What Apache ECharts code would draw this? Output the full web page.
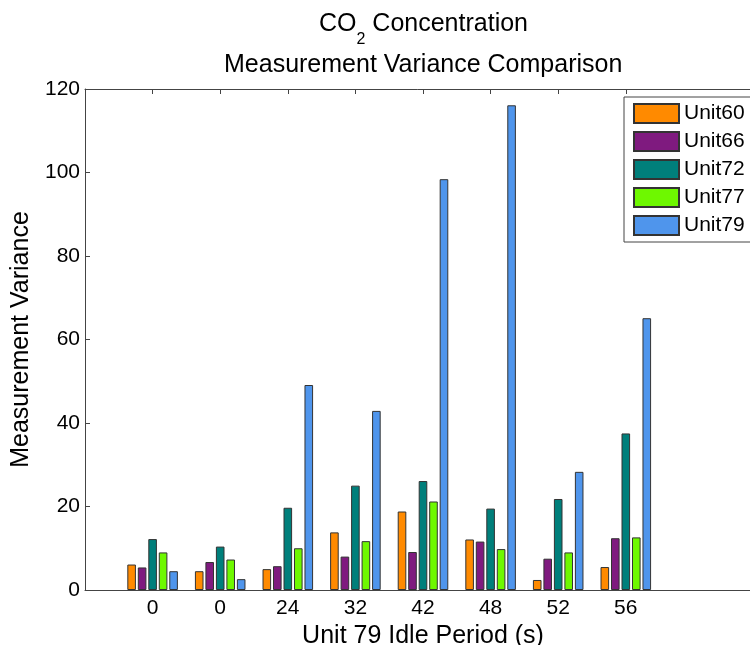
<!DOCTYPE html>
<html>
<head>
<meta charset="utf-8">
<script src="https://cdn.jsdelivr.net/npm/echarts@6/dist/echarts.min.js"></script>
<style>
html,body{margin:0;padding:0;background:#fff;}
#chart{width:750px;height:645px;}
</style>
</head>
<body>
<div id="chart"></div>
<script>
// Data
const categories = ['0', '0', '24', '32', '42', '48', '52', '56'];
const seriesNames = ['Unit60', 'Unit66', 'Unit72', 'Unit77', 'Unit79'];
const unit60 = [6.1, 4.5, 5.0, 13.8, 18.8, 12.1, 2.4, 5.5];
const unit66 = [5.4, 6.7, 5.7, 8.0, 9.1, 11.6, 7.5, 12.4];
const unit72 = [12.2, 10.4, 19.7, 25.0, 26.1, 19.5, 21.8, 37.5];
const unit77 = [9.0, 7.3, 10.0, 11.7, 21.2, 9.8, 9.0, 12.6];
const unit79 = [4.5, 2.6, 49.1, 42.9, 98.4, 116.1, 28.3, 65.1];
const yTicks = [0, 20, 40, 60, 80, 100, 120];

const colors = ['#FF8A00', '#7F1A7F', '#007F7B', '#6EF800', '#4F95EC'];
const FONT = '"Liberation Sans", Arial, Helvetica, sans-serif';
const TITLE_SIZE = 25, SUB_SIZE = 16, TICK_SIZE = 21;

// padded category axis: one empty slot before, two after (axis continues past the crop)
const axisCats = [''].concat(categories, ['', '']);
const pad = arr => ['-'].concat(arr, ['-', '-']);
const allValues = [unit60, unit66, unit72, unit77, unit79];
const tickShown = (i) => i >= 1 && i <= categories.length;

// grid geometry
const GRID_LEFT = 85, GRID_RIGHT = -11, W = 750;
const axisCenter = GRID_LEFT + (W - GRID_LEFT - GRID_RIGHT) / 2;

// measure title widths so they can be centred over the axes (not the canvas)
const ctx = document.createElement('canvas').getContext('2d');
function tw(str, size) { ctx.font = size + 'px ' + FONT; return ctx.measureText(str).width; }
const t1w = tw('CO', TITLE_SIZE) + tw('2', SUB_SIZE) + tw(' Concentration', TITLE_SIZE);
const t2text = 'Measurement Variance Comparison';
const t2w = tw(t2text, TITLE_SIZE);

const chart = echarts.init(document.getElementById('chart'), null, {renderer: 'canvas'});

const option = {
  animation: false,
  backgroundColor: '#fff',
  textStyle: {fontFamily: FONT},
  title: [
    {
      text: '{a|CO}{s|2}{a| Concentration}',
      left: Math.round(axisCenter - t1w / 2),
      top: 12,
      padding: 0,
      textStyle: {
        fontWeight: 'normal',
        rich: {
          a: {fontFamily: FONT, fontSize: TITLE_SIZE, fontWeight: 'normal', color: '#000', verticalAlign: 'top', lineHeight: 27},
          s: {fontFamily: FONT, fontSize: SUB_SIZE, fontWeight: 'normal', color: '#000', verticalAlign: 'top', padding: [20, 0, 0, 0], lineHeight: 20}
        }
      }
    },
    {
      text: t2text,
      left: Math.round(axisCenter - t2w / 2),
      top: 53,
      padding: 0,
      textStyle: {fontFamily: FONT, fontSize: TITLE_SIZE, fontWeight: 'normal', color: '#000'}
    }
  ],
  legend: {
    orient: 'vertical',
    left: 624,
    top: 97,
    icon: 'rect',
    itemWidth: 45,
    itemHeight: 19,
    itemGap: 7,
    padding: [6, 8, 6, 9],
    borderColor: '#444',
    borderWidth: 1,
    borderRadius: 0,
    backgroundColor: '#fff',
    textStyle: {fontFamily: FONT, fontSize: TICK_SIZE, color: '#000'},
    data: seriesNames
  },
  grid: {left: GRID_LEFT, right: GRID_RIGHT, top: 89, bottom: 55, containLabel: false, outerBoundsMode: 'none'},
  xAxis: [
    {
      type: 'category',
      data: axisCats,
      boundaryGap: false,
      position: 'bottom',
      name: 'Unit 79 Idle Period (s)',
      nameLocation: 'middle',
      nameGap: 28,
      nameTextStyle: {fontFamily: FONT, fontSize: TITLE_SIZE, color: '#000'},
      axisLine: {show: true, lineStyle: {color: '#444', width: 1}},
      axisTick: {show: true, inside: true, length: 5, interval: (i) => tickShown(i), lineStyle: {color: '#444'}},
      axisLabel: {show: true, interval: 0, margin: 8, fontFamily: FONT, fontSize: TICK_SIZE, color: '#000'},
      splitLine: {show: false}
    },
    {
      type: 'category',
      data: axisCats,
      boundaryGap: false,
      position: 'top',
      axisLine: {show: true, lineStyle: {color: '#444', width: 1}},
      axisTick: {show: true, inside: true, length: 5, interval: (i) => tickShown(i), lineStyle: {color: '#444'}},
      axisLabel: {show: false},
      splitLine: {show: false}
    }
  ],
  yAxis: {
    type: 'value',
    min: yTicks[0],
    max: yTicks[yTicks.length - 1],
    interval: yTicks[1] - yTicks[0],
    name: 'Measurement Variance',
    nameLocation: 'middle',
    nameGap: 47,
    nameTextStyle: {fontFamily: FONT, fontSize: TITLE_SIZE, color: '#000'},
    axisLine: {show: true, lineStyle: {color: '#444', width: 1}},
    axisTick: {show: true, inside: true, length: 5, lineStyle: {color: '#444'}},
    axisLabel: {margin: 5, fontFamily: FONT, fontSize: TICK_SIZE, color: '#000'},
    splitLine: {show: false}
  },
  series: seriesNames.map((name, k) => ({
    name: name,
    type: 'bar',
    xAxisIndex: 0,
    data: pad(allValues[k]),
    barWidth: 8.6,
    barGap: '22%',
    itemStyle: {color: colors[k], borderColor: '#333', borderWidth: 1},
    emphasis: {disabled: true}
  }))
};

chart.setOption(option);
</script>
</body>
</html>
